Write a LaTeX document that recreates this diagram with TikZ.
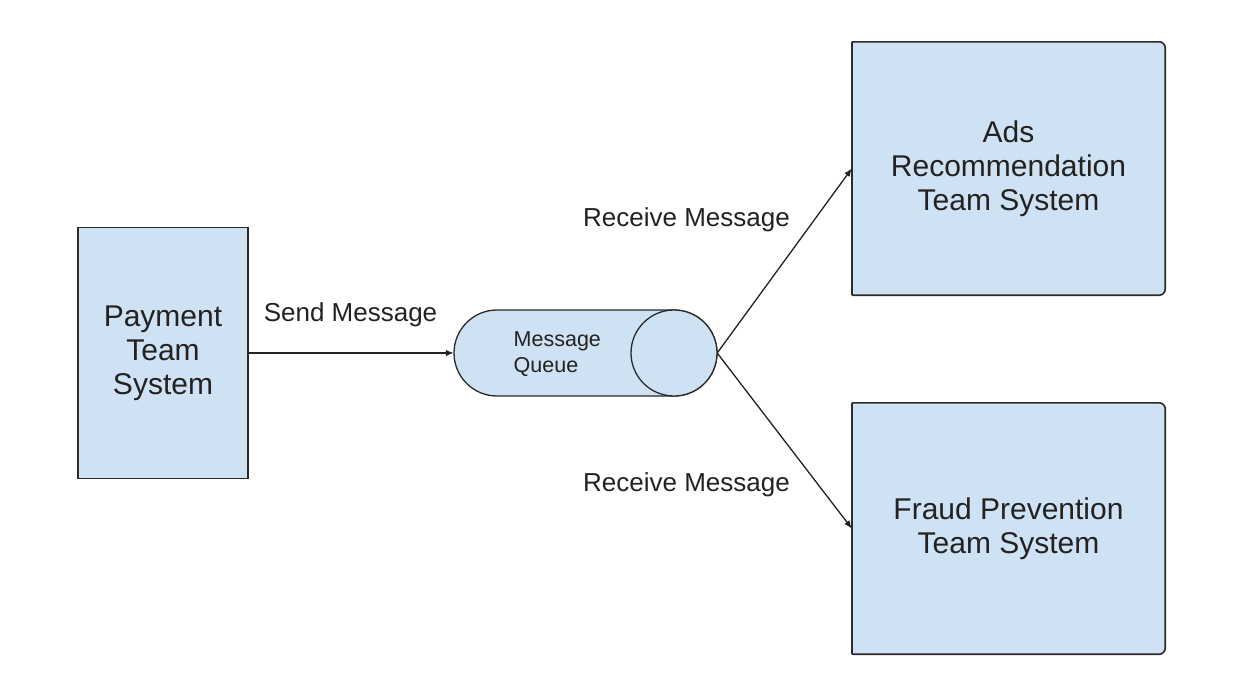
\documentclass[tikz,border=0pt]{standalone}
\usepackage{fontspec}
\setmainfont{Liberation Sans}
\usetikzlibrary{arrows.meta}
\definecolor{boxfill}{HTML}{CFE2F3}
\definecolor{ink}{HTML}{222222}
\definecolor{edge}{HTML}{2A2A2A}
\tikzset{
  sysbox/.style={rectangle, draw=edge, fill=boxfill, line width=1.6pt, inner sep=0pt, align=center,
    text=ink, font=\fontsize{30}{34}\selectfont},
  sysarea/.style={rectangle, inner sep=0pt, align=center, text=ink, font=\fontsize{30}{34}\selectfont},
  edgelabel/.style={text=ink, font=\fontsize{26}{30}\selectfont, inner sep=0pt},
  conn/.style={draw=ink, line width=1.3pt, -{Latex[length=8pt,width=6.5pt]}},
  queueshape/.style={draw=edge, fill=boxfill, line width=1.3pt},
}
\begin{document}
\begin{tikzpicture}[x=1pt,y=-1pt]
\useasboundingbox (0,0) rectangle (1240,696);
\fill[white] (0,0) rectangle (1240,696);

% Payment box
\node[sysbox, minimum width=170pt, minimum height=251pt] (pay) at (163,353) {Payment\\Team\\System};

% Ads and Fraud areas (right corners slightly rounded)
\node[sysarea, minimum width=313pt, minimum height=253pt] (ads) at (1008.5,168.5) {};
\node[sysarea, minimum width=313pt, minimum height=251pt] (fraud) at (1008.5,528.5) {};
\foreach \b in {ads,fraud}{
  \filldraw[draw=edge, fill=boxfill, line width=1.6pt, rounded corners=6pt]
    (\b.north west) -- (\b.north east) -- (\b.south east) -- (\b.south west);
  \draw[edge, line width=1.6pt, line cap=square] (\b.south west) -- (\b.north west);
}
\node[sysarea] (adstext) at (ads.center) {Ads\\Recommendation\\Team System};
\node[sysarea] (fraudtext) at (fraud.center) {Fraud Prevention\\Team System};

% Message queue (horizontal cylinder)
\node[rectangle, inner sep=0pt, minimum width=263pt, minimum height=86pt] (mq) at (585.5,353) {};
\coordinate (mqin) at (mq.west);
\coordinate (mqout) at (mq.east);
\filldraw[queueshape] (497,310) -- (674,310) arc[start angle=90, end angle=-90, radius=43pt]
  -- (497,396) arc[start angle=270, end angle=90, radius=43pt] -- cycle;
\draw[queueshape] (674,353) circle[radius=43pt];
\node[anchor=west, align=left, text=ink, inner sep=0pt, font=\fontsize{21.5}{26}\selectfont] (mqtext) at (513.5,354) {Message\\Queue};

% Connectors
\draw[conn] (pay.east) -- (mqin);
\draw[conn] (mqout) -- (ads.west);
\draw[conn] (mqout) -- (fraud.west);

% Labels
\node[edgelabel] (lsend) at (350.5,315) {Send Message};
\node[edgelabel] (lrec1) at (686.5,220) {Receive Message};
\node[edgelabel] (lrec2) at (686.5,485) {Receive Message};
\end{tikzpicture}
\end{document}
